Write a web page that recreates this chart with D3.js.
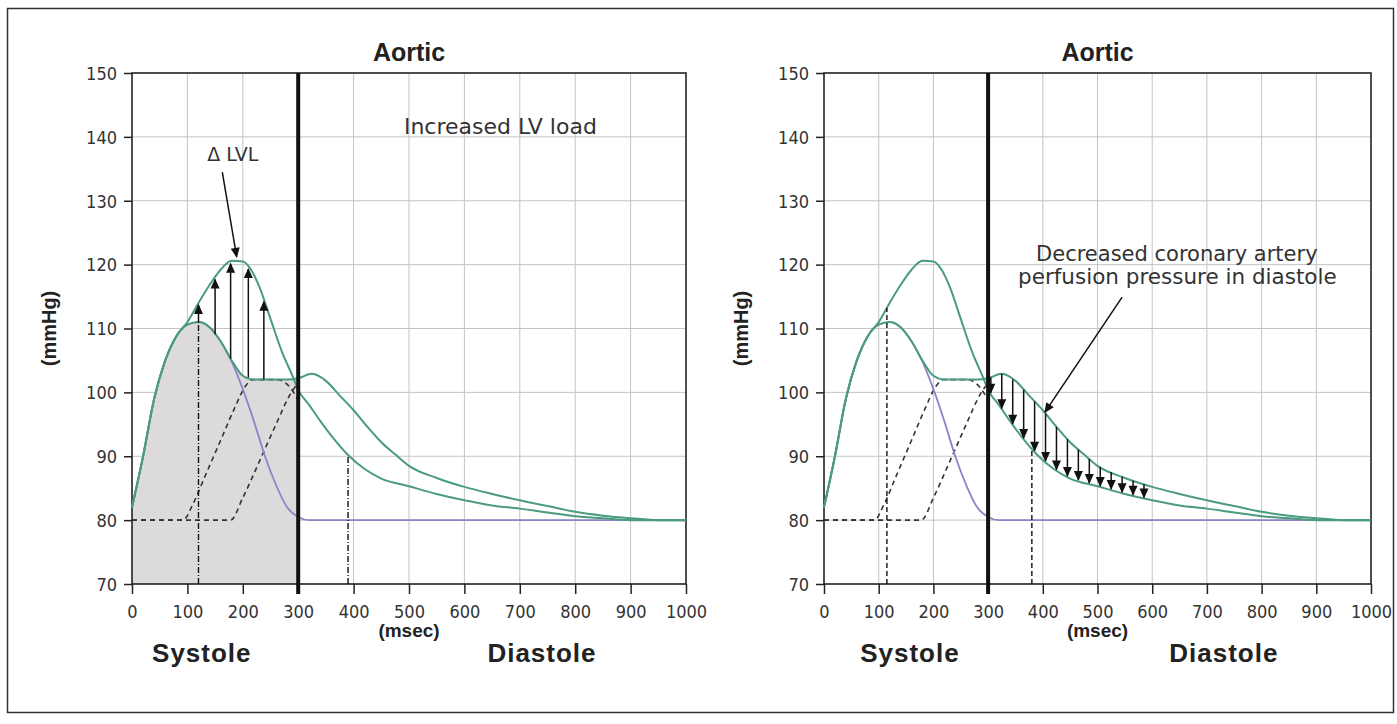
<!DOCTYPE html>
<html>
<head>
<meta charset="utf-8">
<script src="https://cdn.jsdelivr.net/npm/d3@7"></script>
<style>
  body { margin: 0; background: #fff; }
  svg text { font-family: "Liberation Sans", Arial, sans-serif; }
  .tick text { font-family: "Liberation Sans Narrow", "Arial Narrow", "DejaVu Sans Condensed", sans-serif; font-size: 18px; fill: #333; }
  .nota { font-family: "DejaVu Sans", sans-serif !important; fill: #333; }
</style>
</head>
<body>
<script>
const largura = 1397
const altura = 724

// eixos
const xTicks = [0, 100, 200, 300, 400, 500, 600, 700, 800, 900, 1000]
const yTicks = [70, 80, 90, 100, 110, 120, 130, 140, 150]

// onda anterograda (roxa)
const forwardT = [0,20,40,60,80,100,120,140,160,180,200,220,240,260,280,300,320,1000]
const forwardP = [82,90,99,105,108.8,110.6,111,110.2,108,104.8,100.5,95.5,90,85.5,82,80.5,80,80]

// pressao aortica normal (onda refletida tardia)
const youngT = [0,20,40,60,80,100,120,140,160,180,200,220,250,280,300,325,350,375,400,425,450,475,500,550,600,650,700,750,800,850,900,950,1000]
const youngP = [82,90,99,105,108.8,110.6,111,110.2,108,105,102.6,102,102,102,102.2,102.9,101.8,99.5,97.2,94.6,92.2,90.3,88.5,86.6,85.2,84.1,83.1,82.2,81.3,80.7,80.3,80,80]

// pressao aortica aumentada (onda refletida precoce)
const agedT = [0,20,40,60,80,100,120,140,160,180,200,215,230,250,270,290,300,320,340,360,390,420,450,500,550,600,650,700,750,800,850,900,1000]
const agedP = [82,90,99,105,108.8,111,114,116.8,119.2,120.6,120.5,119.2,116.5,111.5,106.5,102.5,100.4,98,95.5,93.2,90.2,88,86.5,85.3,84.1,83.1,82.3,81.8,81.2,80.6,80.3,80,80]

// ondas refletidas (tracejadas)
const reflect1T = [0,92,110,130,160,185,205,218,262,285,300]
const reflect1P = [80,80,82.5,86.5,92.5,97.5,101,102,102,100.8,98.8]
const reflect2T = [0,178,200,230,260,285,300]
const reflect2P = [80,80,83.5,89.2,95,99.6,101.5]

// setas
const lvlArrowT = [120, 150, 178, 210, 238]
const coronArrowT = [305, 325, 345, 365, 385, 405, 425, 445, 465, 485, 505, 525, 545, 565, 585]

const verde = '#4a9c7c'
const roxo = '#8a86c6'

function pares(ts, ps) { return ts.map(function (t, i) { return {t: t, p: ps[i]} }) }
function valorEm(ts, ps, t) {
  for (var i = 1; i < ts.length; i++) {
    if (t <= ts[i]) {
      var f = (t - ts[i - 1]) / (ts[i] - ts[i - 1])
      return ps[i - 1] + f * (ps[i] - ps[i - 1])
    }
  }
  return ps[ps.length - 1]
}

var svg = d3.select('body').append('svg').attr('width', largura).attr('height', altura)

svg.append('rect').attr('x', 7.5).attr('y', 8.5).attr('width', 1386).attr('height', 704)
   .attr('fill', 'none').attr('stroke', '#333').attr('stroke-width', 1.5)

var defs = svg.append('defs')
defs.append('marker').attr('id', 'cabeca').attr('viewBox', '0 0 10 10')
    .attr('refX', 9).attr('refY', 5).attr('markerWidth', 11).attr('markerHeight', 10)
    .attr('markerUnits', 'userSpaceOnUse').attr('orient', 'auto')
  .append('path').attr('d', 'M0,0.5L10,5L0,9.5Z').attr('fill', '#111')

function painel(x0, x1, tipo, tSist, tDiast) {
  var x = d3.scaleLinear().domain([0, 1000]).range([x0, x1])
  var y = d3.scaleLinear().domain([70, 150]).range([584, 73])
  var g = svg.append('g')

  var linha = d3.line().x(function (d) { return x(d.t) }).y(function (d) { return y(d.p) }).curve(d3.curveMonotoneX)

  // grade
  g.append('g').selectAll('line').data(xTicks.slice(1, -1)).join('line')
    .attr('x1', function (d) { return x(d) }).attr('x2', function (d) { return x(d) })
    .attr('y1', y(150)).attr('y2', y(70)).attr('stroke', '#c4c4c4').attr('stroke-width', 1)
  g.append('g').selectAll('line').data(yTicks.slice(1, -1)).join('line')
    .attr('x1', x(0)).attr('x2', x(1000))
    .attr('y1', function (d) { return y(d) }).attr('y2', function (d) { return y(d) })
    .attr('stroke', '#c4c4c4').attr('stroke-width', 1)

  if (tipo == 'esquerda') {
    var area = d3.area().x(function (d) { return x(d.t) }).y0(y(70)).y1(function (d) { return y(d.p) }).curve(d3.curveMonotoneX)
    g.append('path').attr('d', area(pares(youngT, youngP).filter(function (d) { return d.t <= 300 })))
      .attr('fill', '#dcdadb')
  }

  // eixos
  var eixoY = g.append('g').attr('transform', 'translate(' + x(0) + ',0)')
    .call(d3.axisLeft(y).tickValues(yTicks).tickSize(8).tickPadding(7))
  var eixoX = g.append('g').attr('transform', 'translate(0,' + y(70) + ')')
    .call(d3.axisBottom(x).tickValues(xTicks).tickFormat(d3.format('d')).tickSize(10).tickPadding(11))
  eixoY.select('.domain').remove()
  eixoX.select('.domain').remove()
  g.selectAll('.tick line').attr('stroke', '#222').attr('stroke-width', 1.5)
  eixoY.selectAll('.tick text').attr('dy', '0.35em')

  g.append('rect').attr('x', x(0)).attr('y', y(150)).attr('width', x(1000) - x(0)).attr('height', y(70) - y(150))
    .attr('fill', 'none').attr('stroke', '#222').attr('stroke-width', 1.6)

  // ondas refletidas
  g.append('path').attr('d', linha(pares(reflect1T, reflect1P))).attr('fill', 'none')
    .attr('stroke', '#333').attr('stroke-width', 1.6).attr('stroke-dasharray', '5,4')
  g.append('path').attr('d', linha(pares(reflect2T, reflect2P))).attr('fill', 'none')
    .attr('stroke', '#333').attr('stroke-width', 1.6).attr('stroke-dasharray', '5,4')

  g.append('path').attr('d', linha(pares(forwardT, forwardP))).attr('fill', 'none')
    .attr('stroke', roxo).attr('stroke-width', 1.8)
  g.append('path').attr('d', linha(pares(youngT, youngP))).attr('fill', 'none')
    .attr('stroke', verde).attr('stroke-width', 2)
  g.append('path').attr('d', linha(pares(agedT, agedP))).attr('fill', 'none')
    .attr('stroke', verde).attr('stroke-width', 2)

  if (tipo == 'esquerda') {
    g.append('line').attr('x1', x(120)).attr('x2', x(120)).attr('y1', y(70)).attr('y2', y(valorEm(youngT, youngP, 120)))
      .attr('stroke', '#111').attr('stroke-width', 1.4).attr('stroke-dasharray', '6,2,1,2')
    g.append('line').attr('x1', x(390)).attr('x2', x(390)).attr('y1', y(70)).attr('y2', y(valorEm(agedT, agedP, 390)))
      .attr('stroke', '#111').attr('stroke-width', 1.4).attr('stroke-dasharray', '6,2,1,2')
    g.append('g').selectAll('line').data(lvlArrowT).join('line')
      .attr('x1', function (d) { return x(d) }).attr('x2', function (d) { return x(d) })
      .attr('y1', function (d) { return y(valorEm(youngT, youngP, d)) })
      .attr('y2', function (d) { return y(valorEm(agedT, agedP, d)) + 2 })
      .attr('stroke', '#111').attr('stroke-width', 1.5).attr('marker-end', 'url(#cabeca)')

    g.append('text').attr('class', 'nota').attr('x', x(182)).attr('y', y(136.2)).attr('text-anchor', 'middle')
      .style('font-size', '19px').text('\u0394 LVL')
    g.append('line').attr('x1', x(163)).attr('y1', y(134.5)).attr('x2', x(189)).attr('y2', y(121.2))
      .attr('stroke', '#111').attr('stroke-width', 1.5).attr('marker-end', 'url(#cabeca)')
    g.append('text').attr('class', 'nota').attr('x', x(665)).attr('y', y(140.5)).attr('text-anchor', 'middle')
      .style('font-size', '22px').text('Increased LV load')
  } else {
    g.append('line').attr('x1', x(115)).attr('x2', x(115)).attr('y1', y(70)).attr('y2', y(valorEm(agedT, agedP, 115)))
      .attr('stroke', '#111').attr('stroke-width', 1.4).attr('stroke-dasharray', '5,3')
    g.append('line').attr('x1', x(380)).attr('x2', x(380)).attr('y1', y(70)).attr('y2', y(valorEm(agedT, agedP, 380)))
      .attr('stroke', '#111').attr('stroke-width', 1.4).attr('stroke-dasharray', '5,3')
    g.append('g').selectAll('line').data(coronArrowT).join('line')
      .attr('x1', function (d) { return x(d) }).attr('x2', function (d) { return x(d) })
      .attr('y1', function (d) { return y(valorEm(youngT, youngP, d)) })
      .attr('y2', function (d) { return y(valorEm(agedT, agedP, d)) - 1 })
      .attr('stroke', '#111').attr('stroke-width', 1.5).attr('marker-end', 'url(#cabeca)')

    g.append('text').attr('class', 'nota').attr('x', x(645)).attr('y', y(120.6)).attr('text-anchor', 'middle')
      .style('font-size', '21px').text('Decreased coronary artery')
    g.append('text').attr('class', 'nota').attr('x', x(646)).attr('y', y(117)).attr('text-anchor', 'middle')
      .style('font-size', '21.5px').text('perfusion pressure in diastole')
    g.append('line').attr('x1', x(545)).attr('y1', y(114.9)).attr('x2', x(404)).attr('y2', y(96.9))
      .attr('stroke', '#111').attr('stroke-width', 1.5).attr('marker-end', 'url(#cabeca)')
  }

  // linha de fim da sistole
  g.append('line').attr('x1', x(300)).attr('x2', x(300)).attr('y1', y(150)).attr('y2', y(70) + 10)
    .attr('stroke', '#111').attr('stroke-width', 4)

  var meio = (x0 + x1) / 2
  g.append('text').attr('x', meio).attr('y', 61).attr('text-anchor', 'middle')
    .style('font-size', '25px').style('font-weight', 'bold').attr('fill', '#222').text('Aortic')
  g.append('text').attr('x', meio).attr('y', 637).attr('text-anchor', 'middle')
    .style('font-size', '19px').style('font-weight', 'bold').attr('fill', '#222').text('(msec)')
  g.append('text').attr('x', x(tSist)).attr('y', 662).attr('text-anchor', 'middle')
    .style('font-size', '26px').style('font-weight', 'bold').style('letter-spacing', '1px')
    .attr('fill', '#222').text('Systole')
  g.append('text').attr('x', x(tDiast)).attr('y', 662).attr('text-anchor', 'middle')
    .style('font-size', '26px').style('font-weight', 'bold').style('letter-spacing', '1px')
    .attr('fill', '#222').text('Diastole')
  g.append('text').attr('transform', 'translate(' + (x0 - 76) + ',' + y(110) + ') rotate(-90)')
    .attr('text-anchor', 'middle').style('font-size', '20px').style('font-weight', 'bold')
    .attr('fill', '#222').text('(mmHg)')
}

painel(132, 686, 'esquerda', 126, 740)
painel(824, 1371, 'direita', 157, 731)
</script>
</body>
</html>
